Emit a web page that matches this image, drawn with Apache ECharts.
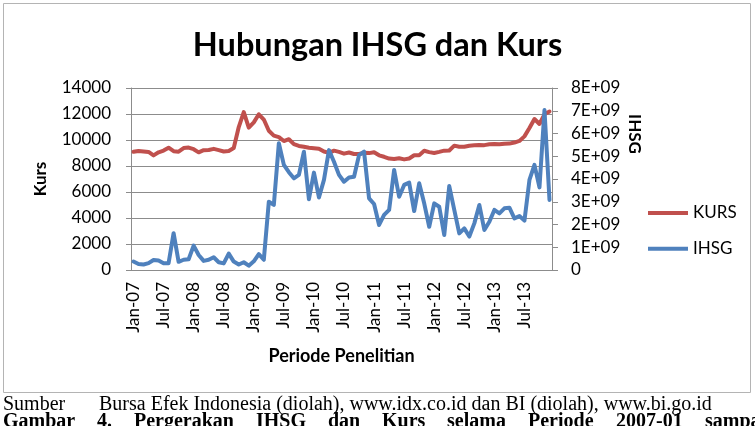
<!DOCTYPE html>
<html><head><meta charset="utf-8">
<script src="https://cdn.jsdelivr.net/npm/echarts@6/dist/echarts.min.js"></script>
<style>html,body{margin:0;padding:0;background:#fff}#c{width:755px;height:426px}</style>
</head><body><div id="c"></div>
<script>
const categories = [
 'Jan-07','Feb-07','Mar-07','Apr-07','May-07','Jun-07','Jul-07','Aug-07','Sep-07','Oct-07','Nov-07','Dec-07',
 'Jan-08','Feb-08','Mar-08','Apr-08','May-08','Jun-08','Jul-08','Aug-08','Sep-08','Oct-08','Nov-08','Dec-08',
 'Jan-09','Feb-09','Mar-09','Apr-09','May-09','Jun-09','Jul-09','Aug-09','Sep-09','Oct-09','Nov-09','Dec-09',
 'Jan-10','Feb-10','Mar-10','Apr-10','May-10','Jun-10','Jul-10','Aug-10','Sep-10','Oct-10','Nov-10','Dec-10',
 'Jan-11','Feb-11','Mar-11','Apr-11','May-11','Jun-11','Jul-11','Aug-11','Sep-11','Oct-11','Nov-11','Dec-11',
 'Jan-12','Feb-12','Mar-12','Apr-12','May-12','Jun-12','Jul-12','Aug-12','Sep-12','Oct-12','Nov-12','Dec-12',
 'Jan-13','Feb-13','Mar-13','Apr-13','May-13','Jun-13','Jul-13','Aug-13','Sep-13','Oct-13','Nov-13','Dec-13'
];
const kurs = [
 9090, 9160, 9118, 9083, 8815, 9054, 9186, 9410, 9137, 9103, 9376, 9419,
 9291, 9051, 9217, 9234, 9318, 9225, 9118, 9153, 9378, 10995, 12151, 10950,
 11355, 11980, 11575, 10713, 10340, 10225, 9920, 10060, 9681, 9545, 9480, 9400,
 9365, 9335, 9115, 9012, 9180, 9083, 8952, 9041, 8924, 8928, 9013, 8991,
 9057, 8823, 8709, 8574, 8537, 8597, 8508, 8578, 8823, 8835, 9170, 9068,
 9000, 9085, 9180, 9190, 9565, 9480, 9485, 9560, 9588, 9615, 9605, 9670,
 9698, 9667, 9719, 9722, 9802, 9929, 10278, 10924, 11613, 11234, 11977, 12189
];
const ihsg = [
 0.37e9, 0.26e9, 0.24e9, 0.30e9, 0.44e9, 0.42e9, 0.30e9, 0.30e9, 1.62e9, 0.36e9, 0.45e9, 0.47e9,
 1.07e9, 0.66e9, 0.40e9, 0.45e9, 0.56e9, 0.34e9, 0.29e9, 0.72e9, 0.37e9, 0.24e9, 0.34e9, 0.19e9,
 0.38e9, 0.70e9, 0.45e9, 3.00e9, 2.86e9, 5.57e9, 4.62e9, 4.30e9, 4.03e9, 4.18e9, 5.20e9, 3.11e9,
 4.28e9, 3.19e9, 3.96e9, 5.27e9, 4.76e9, 4.18e9, 3.88e9, 4.07e9, 4.10e9, 5.05e9, 5.20e9, 3.15e9,
 2.90e9, 1.98e9, 2.42e9, 2.64e9, 4.40e9, 3.22e9, 3.74e9, 3.84e9, 2.59e9, 3.81e9, 2.93e9, 1.90e9,
 2.93e9, 2.78e9, 1.54e9, 3.69e9, 2.64e9, 1.61e9, 1.83e9, 1.47e9, 2.05e9, 2.86e9, 1.76e9, 2.12e9,
 2.64e9, 2.49e9, 2.71e9, 2.74e9, 2.27e9, 2.37e9, 2.17e9, 3.96e9, 4.62e9, 3.63e9, 7.03e9, 3.08e9
];
const seriesNames = ['KURS', 'IHSG'];
const titleText = 'Hubungan IHSG dan Kurs';
const xTitle = 'Periode Penelitian';
const yLeftTitle = 'Kurs';
const yRightTitle = 'IHSG';
const sourceLabel = 'Sumber';
const sourceText = 'Bursa Efek Indonesia (diolah), www.idx.co.id dan BI (diolah), www.bi.go.id';
const captionWords = ['Gambar','4.','Pergerakan','IHSG','dan','Kurs','selama','Periode','2007-01','sampai'];

const SANS = "Lato, 'Open Sans', sans-serif";
const SERIF = "'Liberation Serif', 'Times New Roman', serif";
const GRID = '#8c8c8c';

const captionX = [3, 97, 134, 256, 328, 382, 447, 528, 616, 705];

const chart = echarts.init(document.getElementById('c'), null, {renderer: 'canvas'});
chart.setOption({
  backgroundColor: '#fff',
  animation: false,
  title: {
    text: titleText, left: 'center', top: 24,
    textStyle: {fontFamily: SANS, fontWeight: 'bold', fontSize: 32.5, color: '#000'}
  },
  legend: {
    orient: 'vertical', left: 643, top: 198, icon: 'rect',
    itemWidth: 40, itemHeight: 4, itemGap: 15.7,
    textStyle: {fontFamily: SANS, fontSize: 17, color: '#000', lineHeight: 20},
    data: seriesNames
  },
  grid: {left: 131, right: 203, top: 88, bottom: 156},
  xAxis: {
    type: 'category', data: categories, boundaryGap: true,
    axisLine: {show: true, lineStyle: {color: GRID, width: 1}},
    axisTick: {show: false},
    axisLabel: {rotate: 90, interval: 5, margin: 12, fontFamily: SANS, fontSize: 17, color: '#000'},
    name: xTitle, nameLocation: 'middle', nameGap: 77,
    nameTextStyle: {fontFamily: SANS, fontWeight: 'bold', fontSize: 18, color: '#000'}
  },
  yAxis: [{
    type: 'value', min: 0, max: 14000, interval: 2000,
    axisLine: {show: true, lineStyle: {color: GRID, width: 1}},
    axisTick: {show: true, length: 5, lineStyle: {color: GRID}},
    splitLine: {show: true, lineStyle: {color: GRID, width: 1}},
    axisLabel: {margin: 20, fontFamily: SANS, fontSize: 17, color: '#000', formatter: v => String(v)},
    name: yLeftTitle, nameLocation: 'middle', nameGap: 82, nameRotate: 90,
    nameTextStyle: {fontFamily: SANS, fontWeight: 'bold', fontSize: 17, color: '#000'}
  }, {
    type: 'value', min: 0, max: 8e9, interval: 1e9, position: 'right',
    axisLine: {show: true, lineStyle: {color: GRID, width: 1}},
    axisTick: {show: true, length: 6, lineStyle: {color: GRID}},
    splitLine: {show: false},
    axisLabel: {margin: 19, fontFamily: SANS, fontSize: 17, color: '#000',
      formatter: v => v === 0 ? '0' : Math.round(v / 1e9) + 'E+09'}
  }],
  series: [{
    name: seriesNames[0], type: 'line', data: kurs, yAxisIndex: 0,
    showSymbol: false, symbol: 'none',
    lineStyle: {color: '#c0504d', width: 4, join: 'round', cap: 'round'},
    itemStyle: {color: '#c0504d'}
  }, {
    name: seriesNames[1], type: 'line', data: ihsg, yAxisIndex: 1,
    showSymbol: false, symbol: 'none',
    lineStyle: {color: '#4f81bd', width: 4, join: 'round', cap: 'round'},
    itemStyle: {color: '#4f81bd'}
  }],
  graphic: [
    {type: 'rect', silent: true, shape: {x: 3.5, y: 3.5, width: 747, height: 389},
     style: {fill: 'none', stroke: '#b4b4b4', lineWidth: 1}},
    {type: 'text', x: 634, y: 134, rotation: -Math.PI / 2,
     style: {text: yRightTitle, fontFamily: SANS, fontWeight: 'bold', fontSize: 17, fill: '#000',
             align: 'center', verticalAlign: 'middle'}},
    {type: 'text', x: 3, y: 405,
     style: {text: sourceLabel, fontFamily: SERIF, fontSize: 20, fill: '#000', align: 'left', verticalAlign: 'middle'}},
    {type: 'text', x: 99, y: 405,
     style: {text: sourceText, fontFamily: SERIF, fontSize: 20, fill: '#000', align: 'left', verticalAlign: 'middle'}}
  ].concat(captionWords.map((w, i) => ({
    type: 'text', x: captionX[i], y: 422,
    style: {text: w, fontFamily: SERIF, fontWeight: 'bold', fontSize: 20, fill: '#000', align: 'left', verticalAlign: 'middle'}
  })))
});
</script></body></html>
